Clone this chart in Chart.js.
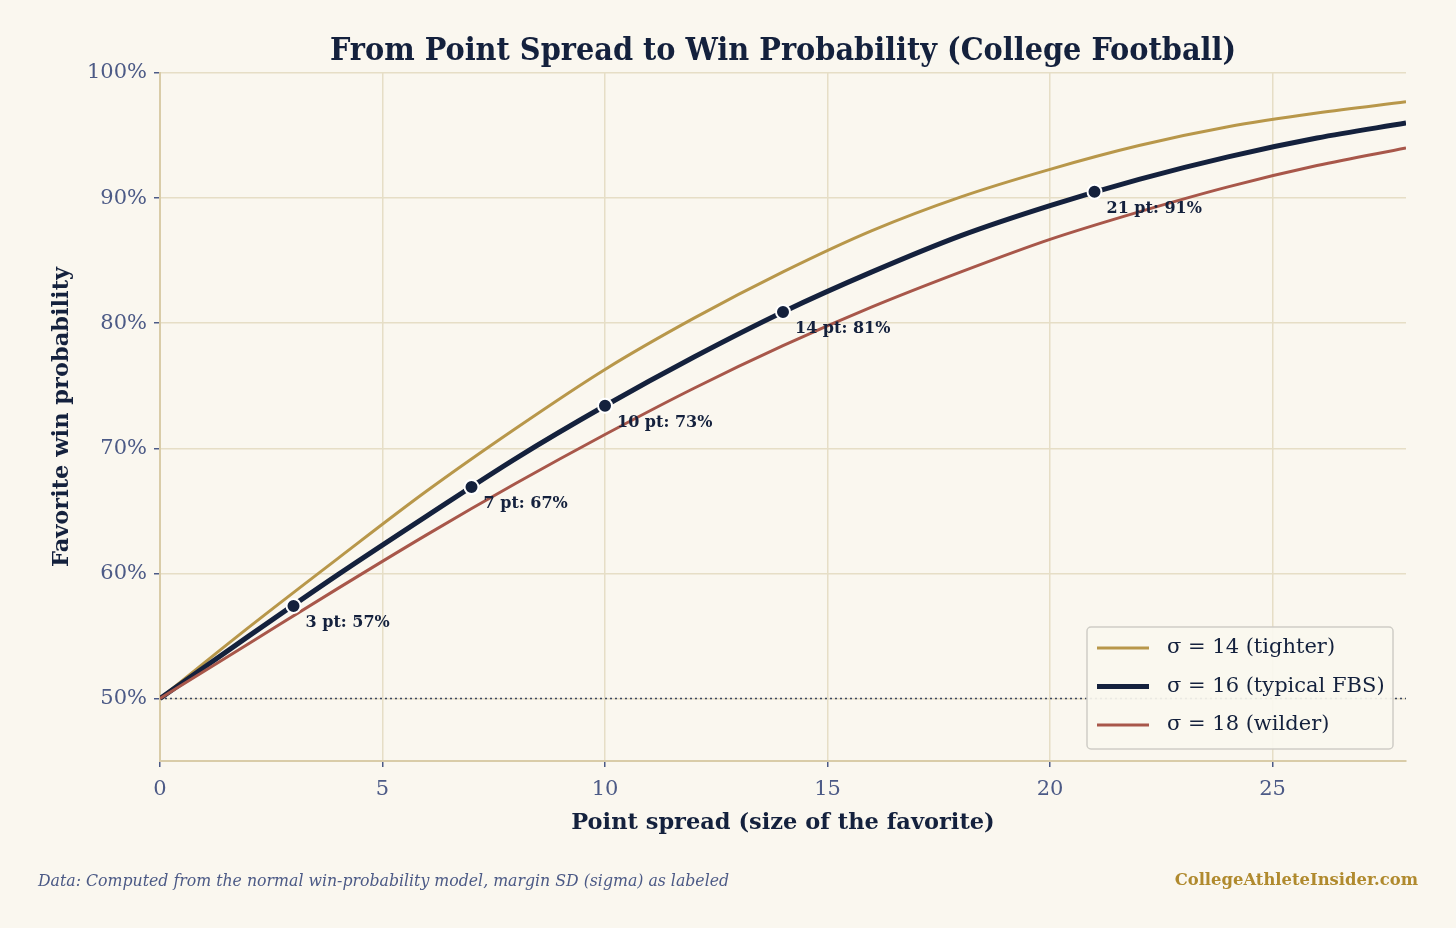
<!DOCTYPE html>
<html>
<head>
<meta charset="utf-8">
<script src="https://cdn.jsdelivr.net/npm/chart.js@4"></script>
<style>
  html, body { margin: 0; padding: 0; background: #faf7ef; }
  #wrap { width: 1456px; height: 928px; }
</style>
</head>
<body>
<div id="wrap"><canvas id="graphique" width="1456" height="928"></canvas></div>
<script>
// Point spread (x) et probabilité de victoire du favori (%)
const spreads = [0, 2, 4, 6, 8, 10, 12, 14, 16, 18, 20, 22, 24, 26, 28];
const wpSigma14 = [50, 55.7, 61.2, 66.6, 71.6, 76.3, 80.4, 84.1, 87.4, 90.1, 92.3, 94.2, 95.7, 96.8, 97.7];
const wpSigma16 = [50, 55.0, 59.9, 64.6, 69.2, 73.4, 77.3, 80.9, 84.1, 87.0, 89.4, 91.5, 93.3, 94.8, 96.0];
const wpSigma18 = [50, 54.4, 58.8, 63.1, 67.2, 71.1, 74.8, 78.2, 81.3, 84.1, 86.7, 88.9, 90.9, 92.6, 94.0];

// Points annotés sur la courbe sigma = 16
const markerSpreads = [3, 7, 10, 14, 21];
const markerWp = [57.4, 66.9, 73.4, 80.9, 90.5];
const markerLabels = ['3 pt: 57%', '7 pt: 67%', '10 pt: 73%', '14 pt: 81%', '21 pt: 91%'];

const xTicks = [0, 5, 10, 15, 20, 25];
const yTicks = [50, 60, 70, 80, 90, 100];

const legendLabels = ['σ = 14 (tighter)', 'σ = 16 (typical FBS)', 'σ = 18 (wilder)'];

const GOLD = '#b8974a';
const NAVY = '#14213d';
const RED = '#a8574a';
const SLATE = '#4c5a86';
const SERIF = '"DejaVu Serif", serif';

const toPoints = (xs, ys) => xs.map((x, i) => ({ x: x, y: ys[i] }));

// Textes, légende et étiquettes dessinés par-dessus le graphique
const decor = {
  id: 'decor',
  afterDatasetsDraw(chart) {
    const { ctx, chartArea: a, scales } = chart;
    ctx.save();

    // Étiquettes des points
    ctx.fillStyle = NAVY;
    ctx.font = 'bold 16px ' + SERIF;
    ctx.textAlign = 'left';
    ctx.textBaseline = 'middle';
    markerSpreads.forEach((s, i) => {
      const px = scales.x.getPixelForValue(s);
      const py = scales.y.getPixelForValue(markerWp[i]);
      ctx.fillText(markerLabels[i], px + 12, py + 17);
    });

    // Légende
    const bx = 1087, by = 627, bw = 306, bh = 122;
    ctx.beginPath();
    ctx.roundRect(bx, by, bw, bh, 4);
    ctx.fillStyle = 'rgba(250,247,239,0.92)';
    ctx.fill();
    ctx.strokeStyle = '#cfcdc6';
    ctx.lineWidth = 1.5;
    ctx.stroke();
    const colors = [GOLD, NAVY, RED];
    const widths = [3, 5, 3];
    ctx.font = '21px ' + SERIF;
    legendLabels.forEach((lab, i) => {
      const y = by + 21 + i * 38.5;
      ctx.beginPath();
      ctx.moveTo(bx + 10, y);
      ctx.lineTo(bx + 62, y);
      ctx.strokeStyle = colors[i];
      ctx.lineWidth = widths[i];
      ctx.stroke();
      ctx.fillStyle = NAVY;
      ctx.fillText(lab, bx + 80, y);
    });

    // Titre
    const cx = (a.left + a.right) / 2;
    ctx.textAlign = 'center';
    ctx.fillStyle = NAVY;
    ctx.font = 'bold 32px "DejaVu Serif Condensed", ' + SERIF;
    ctx.fillText('From Point Spread to Win Probability (College Football)', cx, 52);

    // Titres des axes
    ctx.font = 'bold 22.5px ' + SERIF;
    ctx.fillText('Point spread (size of the favorite)', cx, 823);
    ctx.save();
    ctx.translate(62, (a.top + a.bottom) / 2);
    ctx.rotate(-Math.PI / 2);
    ctx.fillText('Favorite win probability', 0, 0);
    ctx.restore();

    // Pied de page
    ctx.textAlign = 'left';
    ctx.fillStyle = SLATE;
    ctx.font = 'italic 17.5px "DejaVu Serif Condensed", ' + SERIF;
    ctx.fillText('Data: Computed from the normal win-probability model, margin SD (sigma) as labeled', 38, 881);
    ctx.textAlign = 'right';
    ctx.fillStyle = '#b08a2e';
    ctx.font = 'bold 16.4px ' + SERIF;
    ctx.fillText('CollegeAthleteInsider.com', 1418, 881);

    ctx.restore();
  }
};

const ctx = document.getElementById('graphique').getContext('2d');
new Chart(ctx, {
  type: 'line',
  data: {
    datasets: [
      {
        label: 'markers',
        data: toPoints(markerSpreads, markerWp),
        showLine: false,
        pointRadius: 7,
        pointBackgroundColor: NAVY,
        pointBorderColor: '#ffffff',
        pointBorderWidth: 2,
        order: 0
      },
      {
        label: legendLabels[2],
        data: toPoints(spreads, wpSigma18),
        borderColor: RED,
        borderWidth: 3,
        pointRadius: 0,
        cubicInterpolationMode: 'monotone',
        order: 1
      },
      {
        label: legendLabels[1],
        data: toPoints(spreads, wpSigma16),
        borderColor: NAVY,
        borderWidth: 5,
        pointRadius: 0,
        cubicInterpolationMode: 'monotone',
        order: 2
      },
      {
        label: legendLabels[0],
        data: toPoints(spreads, wpSigma14),
        borderColor: GOLD,
        borderWidth: 3,
        pointRadius: 0,
        cubicInterpolationMode: 'monotone',
        order: 3
      },
      {
        label: '50%',
        data: [{ x: 0, y: 50 }, { x: 28, y: 50 }],
        borderColor: '#3a4660',
        borderWidth: 1.5,
        borderDash: [2, 3],
        pointRadius: 0,
        order: 4
      }
    ]
  },
  options: {
    responsive: false,
    animation: false,
    layout: { padding: { top: 73, right: 50, left: 0, bottom: 0 } },
    plugins: { legend: { display: false }, tooltip: { enabled: false } },
    scales: {
      x: {
        type: 'linear',
        min: 0,
        max: 28,
        afterBuildTicks: (axis) => { axis.ticks = xTicks.map((v) => ({ value: v })); },
        afterFit: (scale) => { scale.height = 167; },
        grid: { color: '#e6dec6', lineWidth: 1.5, tickColor: SLATE, tickLength: 6 },
        border: { color: '#d9cca8', width: 2 },
        ticks: { color: SLATE, font: { family: SERIF, size: 21 }, padding: 10, maxRotation: 0 }
      },
      y: {
        min: 45,
        max: 100,
        afterBuildTicks: (axis) => { axis.ticks = yTicks.map((v) => ({ value: v })); },
        afterFit: (scale) => { scale.width = 160; },
        grid: { color: '#e6dec6', lineWidth: 1.5, tickColor: SLATE, tickLength: 6 },
        border: { color: '#d9cca8', width: 2 },
        ticks: { color: SLATE, font: { family: SERIF, size: 21 }, padding: 7, callback: (v) => v + '%' }
      }
    }
  },
  plugins: [decor]
});
</script>
</body>
</html>
